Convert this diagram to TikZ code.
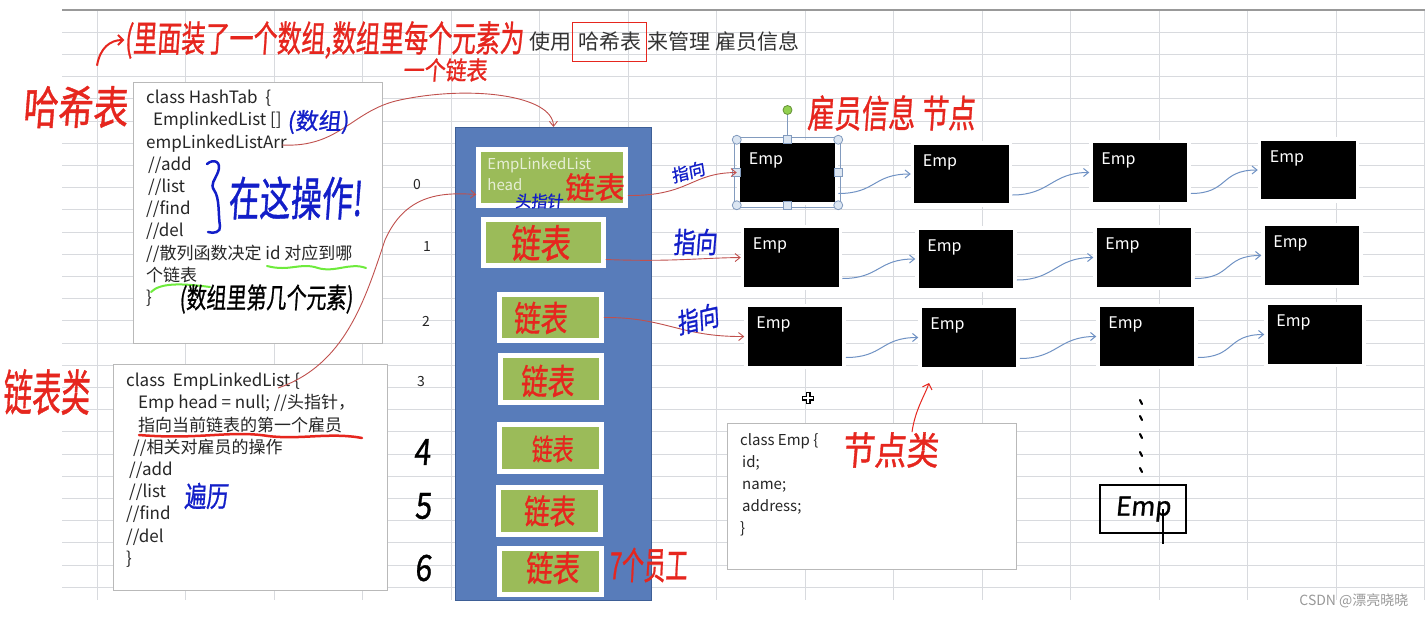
\documentclass[tikz,border=0pt]{standalone}
\usepackage{fontspec}
\setmainfont{Noto Sans CJK SC}
\newfontfamily\handfont{Noto Sans CJK SC}[FakeSlant=0.1,FakeBold=1]
\usetikzlibrary{arrows.meta,positioning,shadows}
\definecolor{gridc}{RGB}{216,218,222}
\definecolor{boxgray}{RGB}{185,185,185}
\definecolor{cblue}{RGB}{88,124,186}
\definecolor{cblueb}{RGB}{62,95,150}
\definecolor{olive}{RGB}{155,187,89}
\definecolor{handred}{RGB}{230,38,30}
\definecolor{handblue}{RGB}{18,30,200}
\definecolor{linkred}{RGB}{192,80,77}
\definecolor{linkblue}{RGB}{112,146,196}
\definecolor{hlgreen}{RGB}{110,235,60}
\definecolor{handlefill}{RGB}{220,230,242}
\definecolor{handleb}{RGB}{130,155,190}
\definecolor{rotgreen}{RGB}{146,208,80}
\newcommand{\codesz}[1]{\fontsize{#1}{22.2}\selectfont}
\newcommand{\handsz}[1]{\handfont\fontsize{#1}{#1}\selectfont}

\begin{document}
\begin{tikzpicture}[x=1pt, y=-1pt,
	gridline/.style={draw=gridc, line width=0.8pt},
	codebox/.style={draw=boxgray, fill=white, line width=0.9pt, anchor=north west, inner sep=0},
	code/.style={anchor=north west, align=left, inner sep=0, text=black!85, font=\codesz{17}},
	ttl/.style={font=\codesz{21}, text=black!80, inner xsep=1},
	idx/.style={font=\codesz{14}, text=black!85},
	slot/.style={fill=olive, draw=white, line width=4.5pt, drop shadow={shadow xshift=1pt, shadow yshift=-1.5pt, opacity=0.3}},
	empnode/.style={fill=black, draw=white, line width=3.5pt, minimum width=98, minimum height=62, drop shadow={shadow xshift=1pt, shadow yshift=-1.5pt, opacity=0.3}, label={[emptext]north west:Emp}},
	emptext/.style={anchor=north west, text=white, font=\codesz{16}, xshift=12pt, yshift=-13pt, inner sep=0},
	hand/.style={inner sep=0, transform shape},
	redhand/.style={hand, text=handred},
	bluehand/.style={hand, text=handblue},
	link/.style={draw=linkred, line width=0.9pt, -{Straight Barb[length=5pt, width=8pt]}},
	chain/.style={draw=linkblue, line width=1pt, -{Straight Barb[length=5pt, width=8pt]}},
	handle/.style={circle, fill=handlefill, draw=handleb, line width=0.8pt, inner sep=0, minimum size=9},
	handsq/.style={rectangle, fill=handlefill, draw=handleb, line width=0.8pt, inner sep=0, minimum size=8}]
	% sheet
	\fill[white] (0,0) rectangle (1425,619);
	\useasboundingbox (0,0) rectangle (1425,619);
	\foreach \k in {1,...,26} \draw[gridline] (62,{10+22.2*\k}) -- (1425,{10+22.2*\k});
	\foreach \k in {0,...,15} \draw[gridline] ({97+88.5*\k},10) -- ({97+88.5*\k},600);
	\draw[black!40, line width=2pt] (62,10) -- (1425,10);
	% title
	\node[ttl, inner xsep=5, inner ysep=0, minimum height=38] (hx) at (609.5,42) {哈希表};
	\draw[handred, line width=1.2pt] (hx.north west) rectangle (hx.south east);
	\node[ttl, anchor=base east] (t1) at (hx.base west) {使用};
	\node[ttl, anchor=base west] (t2) at (hx.base east) {来管理 雇员信息};
	% class boxes
	\node[codebox, minimum width=249, minimum height=261] (hashbox) at (133,82) {};
	\node[code, below right=8pt and 13pt of hashbox.north west] (hashcode) {class HashTab \ \{\\ \hspace*{7pt}EmplinkedList []\\ empLinkedListArr\\ \hspace*{2pt}//add\\ \hspace*{2pt}//list\\ //find\\ //del\\ //散列函数决定 id 对应到哪\\ 个链表\\ \}};
	\node[codebox, minimum width=274, minimum height=226] (elbox) at (113,364) {};
	\node[code, below right=9pt and 13pt of elbox.north west] (elcode) {class\ \ EmpLinkedList \{\\ \hspace*{12pt}Emp head = null; //头指针，\\ \hspace*{12pt}指向当前链表的第一个雇员\\ \hspace*{7pt}//相关对雇员的操作\\ \hspace*{3pt}//add\\ \hspace*{3pt}//list\\ //find\\ //del\\ \}};
	\node[codebox, minimum width=289, minimum height=146] (empcls) at (727,423) {};
	\node[code, font=\codesz{15}, below right=10pt and 13pt of empcls.north west] (empcode) {class Emp \{\\ \hspace*{2pt}id;\\ \hspace*{2pt}name;\\ \hspace*{2pt}address;\\ \}};
	% array of lists
	\node[fill=cblue, draw=cblueb, line width=1pt, minimum width=196, minimum height=473, inner sep=0, anchor=north west] (arr) at (455,127) {};
	\node[slot, minimum width=147, minimum height=56] (s0) at (552,177.5) {};
	\node[slot, minimum width=120, minimum height=46] (s1) at (543.5,242.5) {};
	\node[slot, minimum width=102, minimum height=46] (s2) at (550.5,317.5) {};
	\node[slot, minimum width=101, minimum height=47] (s3) at (551,379) {};
	\node[slot, minimum width=102, minimum height=47] (s4) at (550.5,448) {};
	\node[slot, minimum width=102, minimum height=47] (s5) at (549.5,511) {};
	\node[slot, minimum width=102, minimum height=46] (s6) at (550.5,571.5) {};
	\node[anchor=north west, align=left, inner sep=0, text=olive!25, font=\fontsize{15}{21}\selectfont, below right=10pt and 11pt of s0.north west] (s0txt) {EmpLinkedList\\head};
	\node[idx] (i0) at (417,185) {0};
	\node[idx] (i1) at (427,247) {1};
	\node[idx] (i2) at (426,321) {2};
	\node[idx] (i3) at (421,382) {3};
	\node[hand, font=\handsz{30}, yscale=1.2] (i4) at (422,452) {4};
	\node[hand, font=\handsz{30}, yscale=1.2] (i5) at (423,506) {5};
	\node[hand, font=\handsz{30}, yscale=1.2] (i6) at (423,568) {6};
	% employee nodes
	\foreach \r/\c/\x/\y in {0/0/787.5/172.5, 0/1/961.5/174, 0/2/1140/172.5, 0/3/1308.5/170,
		1/0/791.5/257.5, 1/1/966/259, 1/2/1144/257.5, 1/3/1312/255.5,
		2/0/795/336.5, 2/1/969/337.5, 2/2/1147/336.5, 2/3/1315/334.5}
		\node[empnode] (e\r\c) at (\x,\y) {};
	\foreach \r in {0,1,2}
		\foreach \c [count=\nx from 1] in {0,1,2}
			\draw[chain] ([yshift=-21pt]e\r\c.east) .. controls +(38,0) and +(-38,0) .. (e\r\nx.west);
	% selection handles
	\draw[handleb, line width=0.8pt] ([xshift=-2pt,yshift=2pt]e00.north west) rectangle ([xshift=2pt,yshift=-2pt]e00.south east);
	\node[handle, fill=rotgreen, draw=rotgreen!70!black] (rot) at (787.5,110) {};
	\draw[handleb, line width=0.8pt] (rot) -- (e00.north);
	\foreach \a [count=\i] in {north west, north east, south west, south east}
		\node[handle] (hc\i) at (e00.\a) {};
	\foreach \a [count=\i] in {north, south, west, east}
		\node[handsq] (hs\i) at (e00.\a) {};
	% links
	\coordinate (arrtail) at (282,145);
	\coordinate (eltail) at (278,388);
	\draw[link] (arrtail) .. controls (340,148) and (352,110) .. (400,100) .. controls (470,85) and (553,95) .. (arr.north);
	\draw[link] (eltail) .. controls (345,365) and (365,300) .. (385,240) .. controls (405,195) and (440,192) .. ([yshift=-17pt]s0.west);
	\draw[link] ([yshift=-18pt]s0.east) .. controls (690,196) and (690,173) .. (e00.west);
	\draw[link] ([yshift=-17pt]s1.east) .. controls (670,262) and (700,258) .. (e10.west);
	\draw[link] (s2.east) .. controls (665,317) and (680,337) .. (e20.west);
	% hand notes
	\node[redhand, font=\handsz{35}, yscale=1.3] (hashlbl) at (75,107) {哈希表};
	\node[redhand, font=\handsz{24}, yscale=1.5] (topnote) at (324,40) {(里面装了一个数组,数组里每个元素为};
	\node[redhand, font=\handsz{21}, yscale=1.2] (topnote2) at (445,70) {一个链表};
	\draw[handred, line width=2pt, -{Straight Barb[length=5pt]}] ([xshift=22pt,yshift=20pt]hashlbl.north) .. controls (100,48) and (110,40) .. (topnote.west);
	\node[bluehand, font=\handsz{23}] (arrnote) at (318,122) {(数组)};
	\draw[handblue, line width=2.5pt, line cap=round] (207,164) .. controls (214,158) and (222,162) .. (218,172) .. controls (215,180) and (210,184) .. (214,190) .. controls (220,198) and (218,215) .. (220,226) .. controls (221,232) and (214,234) .. (208,232);
	\node[bluehand, font=\handsz{31}, yscale=1.5] (opnote) at (295,198) {在这操作!};
	\draw[hlgreen, line width=2pt, line cap=round] (267,266) .. controls (290,272) and (300,262) .. (318,268) .. controls (335,273) and (350,262) .. (366,268);
	\draw[hlgreen, line width=2pt, line cap=round] (151,292) .. controls (160,283) and (180,283) .. (210,287);
	\node[hand, font=\handsz{20}, yscale=1.4] (idxnote) at (266,299) {(数组里第几个元素)};
	\node[redhand, font=\handsz{29}, yscale=1.7] (listlbl) at (46,392) {链表类};
	\draw[handred, line width=2.5pt, line cap=round] (139,435) .. controls (200,440) and (230,430) .. (268,436) .. controls (300,440) and (330,432) .. (362,438);
	\node[bluehand, font=\handsz{22}, yscale=1.3] (travnote) at (206,496) {遍历};
	\node[redhand, font=\handsz{30}] (l0) at (594,187) {链表};
	\node[bluehand, font=\handsz{16}] (headnote) at (539,201) {头指针};
	\node[redhand, font=\handsz{30}, yscale=1.3] (l1) at (540,243) {链表};
	\node[redhand, font=\handsz{27}, yscale=1.3] (l2) at (540,318) {链表};
	\node[redhand, font=\handsz{27}, yscale=1.3] (l3) at (547,381) {链表};
	\node[redhand, font=\handsz{21}, yscale=1.4] (l4) at (552,449) {链表};
	\node[redhand, font=\handsz{26}, yscale=1.3] (l5) at (549,511) {链表};
	\node[redhand, font=\handsz{27}, yscale=1.3] (l6) at (552,568) {链表};
	\node[redhand, font=\handsz{22}, yscale=1.7] (sevennote) at (648,565) {7个员工};
	\node[bluehand, font=\handsz{17}, rotate=15] (pt0) at (688,172) {指向};
	\node[bluehand, font=\handsz{22}, yscale=1.3] (pt1) at (695,242) {指向};
	\node[bluehand, font=\handsz{21}, yscale=1.3, rotate=10] (pt2) at (698,319) {指向};
	\node[redhand, font=\handsz{27}, yscale=1.4] (empinfo) at (891,113) {雇员信息 节点};
	\node[redhand, font=\handsz{32}, yscale=1.2] (nodecls) at (890,450) {节点类};
	\coordinate (nodeptr) at (929,383);
	\draw[handred, line width=1pt, -{Straight Barb[length=5pt]}] ([xshift=22pt]nodecls.north) .. controls (915,410) and (925,395) .. (nodeptr);
	% cursor, dots, sketched node
	\coordinate (cur) at (808,398);
	\draw[line width=5pt] ([xshift=-6pt]cur) -- ([xshift=6pt]cur) ([yshift=-6pt]cur) -- ([yshift=6pt]cur);
	\draw[white, line width=2.6pt] ([xshift=-5pt]cur) -- ([xshift=5pt]cur) ([yshift=-5pt]cur) -- ([yshift=5pt]cur);
	\foreach \yy in {400,416,434,452,468} \draw[line width=2.2pt, line cap=round] (1140,\yy) -- (1142,{\yy+4});
	\node[draw=black, line width=2.5pt, minimum width=86, minimum height=48, inner sep=0, font=\handsz{26}] (hemp) at (1143,509) {Emp};
	\draw[line width=2.2pt] ([xshift=20pt]hemp.center) -- ([xshift=20pt,yshift=-10pt]hemp.south);
	\node[anchor=east, font=\codesz{14}, text=black!40] (wm) at (1412,601) {CSDN @漂亮晓晓};
\end{tikzpicture}
\end{document}
